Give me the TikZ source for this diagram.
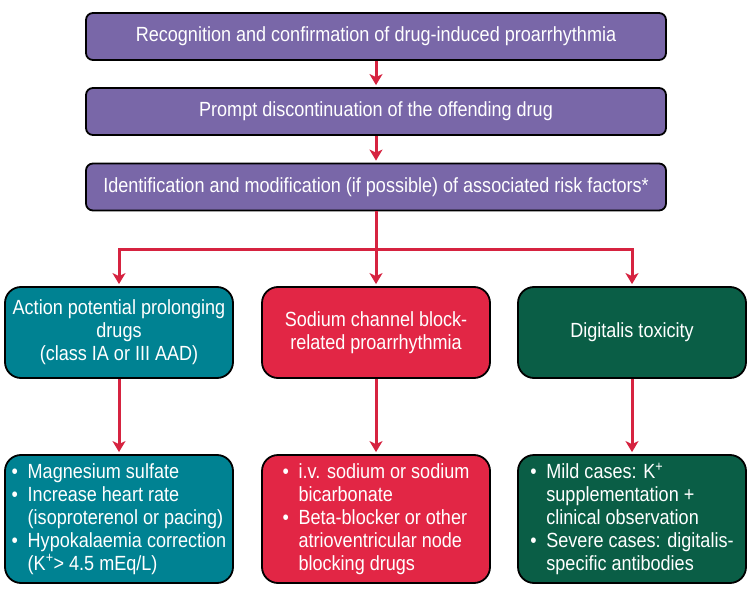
\documentclass[tikz,border=0pt]{standalone}
\usepackage{fontspec}
\setmainfont{Liberation Sans}[FakeStretch=0.88]
\usetikzlibrary{arrows.meta}
\definecolor{stepPurple}{HTML}{7967A8}
\definecolor{apdTeal}{HTML}{008292}
\definecolor{naRed}{HTML}{E22645}
\definecolor{digGreen}{HTML}{0A5E46}
\definecolor{arrowRed}{HTML}{D62340}
\newcommand{\bul}{\makebox[16pt][l]{\textbullet}}
\newcommand{\ind}{\hspace*{16pt}}
\begin{document}
\begin{tikzpicture}[x=1pt,y=-1pt,every node/.style={font=\fontsize{20.5}{23}\selectfont,text=white},
  stepbox/.style={draw=black,line width=1.8pt,fill=stepPurple,rounded corners=7pt,minimum width=580pt,minimum height=47pt,inner sep=0pt},
  casebox/.style={draw=black,line width=1.8pt,rounded corners=16pt,minimum width=228pt,minimum height=91pt,inner sep=0pt,align=center},
  txbox/.style={casebox,minimum height=128pt,align=left},
  link/.style={draw=arrowRed,line width=3pt,-{Stealth[length=11pt,width=13pt,inset=3pt]},shorten >=2pt}]
  \fill[white] (0,0) rectangle (752,596);
  \useasboundingbox (0,0) rectangle (752,596);
  % main steps
  \node[stepbox] (recog) at (376,36.5) {Recognition and confirmation of drug-induced proarrhythmia};
  \node[stepbox] (stop) at (376,111.5) {Prompt discontinuation of the offending drug};
  \node[stepbox] (risk) at (376,187) {Identification and modification (if possible) of associated risk factors*};
  % the three cases
  \node[casebox,fill=apdTeal] (apd) at (119,332.5) {Action potential prolonging\\drugs\\(class IA or III AAD)};
  \node[casebox,fill=naRed] (sodium) at (376,332.5) {Sodium channel block-\\related proarrhythmia};
  \node[casebox,fill=digGreen] (digi) at (632,332.5) {Digitalis toxicity};
  % what to do
  \node[txbox,fill=apdTeal] (apdtx) at (119,519) {\bul Magnesium sulfate\\\bul Increase heart rate\\\ind(isoproterenol or pacing)\\\bul Hypokalaemia correction\\\ind(K\textsuperscript{+}> 4.5 mEq/L)};
  \node[txbox,fill=naRed] (sodiumtx) at (376,519) {\bul i.v. sodium or sodium\\\ind bicarbonate\\\bul Beta-blocker or other\\\ind atrioventricular node\\\ind blocking drugs};
  \node[txbox,fill=digGreen] (digitx) at (632,519) {\bul Mild cases: K\textsuperscript{+}\\\ind supplementation +\\\ind clinical observation\\\bul Severe cases: digitalis-\\\ind specific antibodies};
  \coordinate (split) at (376,249);
  \draw[link] (recog) -- (stop);
  \draw[link] (stop) -- (risk);
  \draw[link] (risk) -- (sodium);
  \draw[link] (split) -| (apd);
  \draw[link] (split) -| (digi);
  \foreach \n in {apd,sodium,digi} \draw[link] (\n) -- (\n tx);
\end{tikzpicture}
\end{document}
